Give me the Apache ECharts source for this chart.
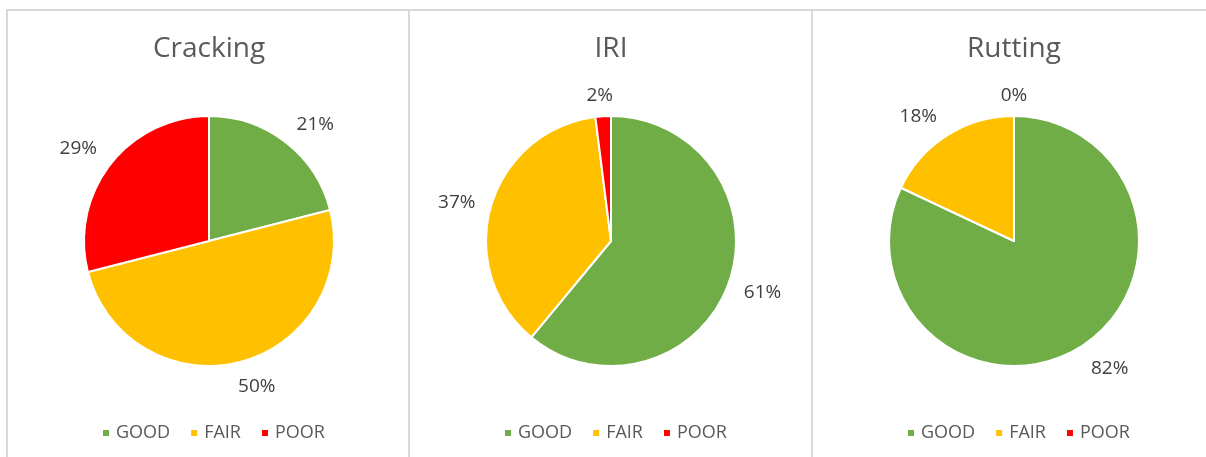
<!DOCTYPE html>
<html lang="en">
  <head>
    <meta charset="UTF-8" />
    <title>Pavement condition</title>
    <script src="https://cdn.jsdelivr.net/npm/echarts@6/dist/echarts.min.js"></script>
    <style>
      body {
        margin: 0;
        background: #fff;
      }
      #wrap {
        position: relative;
        width: 1206px;
        height: 457px;
        overflow: hidden;
      }
      .panel {
        position: absolute;
        top: 9px;
        height: 460px;
        border-top: 2px solid #d9d9d9;
        border-left: 2px solid #d9d9d9;
        box-sizing: border-box;
      }
      #main {
        position: absolute;
        left: 0;
        top: 0;
        width: 1206px;
        height: 457px;
      }
    </style>
  </head>
  <body>
    <div id="wrap">
      <div class="panel" style="left: 6px; width: 404px"></div>
      <div class="panel" style="left: 408px; width: 404px"></div>
      <div class="panel" style="left: 811px; width: 400px"></div>
      <div id="main"></div>
    </div>

    <script>
      const categories = ["GOOD", "FAIR", "POOR"];
      const colors = ["#70AD47", "#FFC000", "#FF0000"];
      const chartTitles = ["Cracking", "IRI", "Rutting"];
      const cracking = [21, 50, 29];
      const iri = [61, 37, 2];
      const rutting = [82, 18, 0];
      const seriesValues = [cracking, iri, rutting];

      // layout of the three panels
      const centersX = [209, 611, 1014];
      const legendLeft = [101, 503, 906];
      const pieRadius = 125;
      const labelGap = 13;

      const myChart = echarts.init(document.getElementById("main"));

      // roughly how excel sets "outside end" labels: anchor just off the rim,
      // box pushed out sideways by up to half its width, down/up by half its height
      function placeLabel(params) {
        const pts = params.labelLinePoints;
        if (!pts) return {};
        const vx = pts[1][0] - pts[0][0];
        const vy = pts[1][1] - pts[0][1];
        const len = Math.sqrt(vx * vx + vy * vy) || 1;
        const ux = vx / len;
        const uy = vy / len;
        const w = params.labelRect.width;
        const h = params.labelRect.height;
        const fx = Math.min(1, Math.abs(ux) / 0.4);
        const fy = Math.pow(Math.min(1, Math.abs(uy) / 0.6), 2);
        return {
          x: pts[0][0] + ux * labelGap + Math.sign(ux) * (w / 2 + 3) * fx,
          y: pts[0][1] + uy * labelGap + Math.sign(uy) * (h / 2) * fy + 2,
          align: "center",
          verticalAlign: "middle",
        };
      }

      const option = {
        color: colors,
        title: chartTitles.map((t, i) => ({
          text: t,
          left: centersX[i],
          top: 35,
          padding: 0,
          textAlign: "center",
          textStyle: {
            fontFamily: "Open Sans",
            fontSize: 28,
            fontWeight: "normal",
            color: "#595959",
          },
        })),
        legend: chartTitles.map((t, i) => ({
          data: categories,
          left: legendLeft[i],
          top: 424,
          padding: 0,
          itemWidth: 8,
          itemHeight: 8,
          itemGap: 19,
          icon: "rect",
          textStyle: {
            fontFamily: "Open Sans",
            fontSize: 18,
            color: "#595959",
            padding: [0, 0, 0, 1],
          },
        })),
        series: seriesValues.map((vals, i) => ({
          type: "pie",
          center: [centersX[i], 241],
          radius: pieRadius,
          startAngle: 90,
          clockwise: true,
          animation: false,
          avoidLabelOverlap: false,
          itemStyle: { borderColor: "#fff", borderWidth: 2 },
          label: {
            show: true,
            position: "outside",
            formatter: "{c}%",
            fontFamily: "Open Sans",
            fontSize: 19,
            lineHeight: 19,
            color: "#404040",
          },
          labelLine: {
            show: true,
            length: 20,
            length2: 0,
            lineStyle: { opacity: 0, width: 0 },
          },
          labelLayout: placeLabel,
          emphasis: { scale: false },
          data: categories.map((c, k) => ({ name: c, value: vals[k] })),
        })),
      };
      myChart.setOption(option);
    </script>
  </body>
</html>
